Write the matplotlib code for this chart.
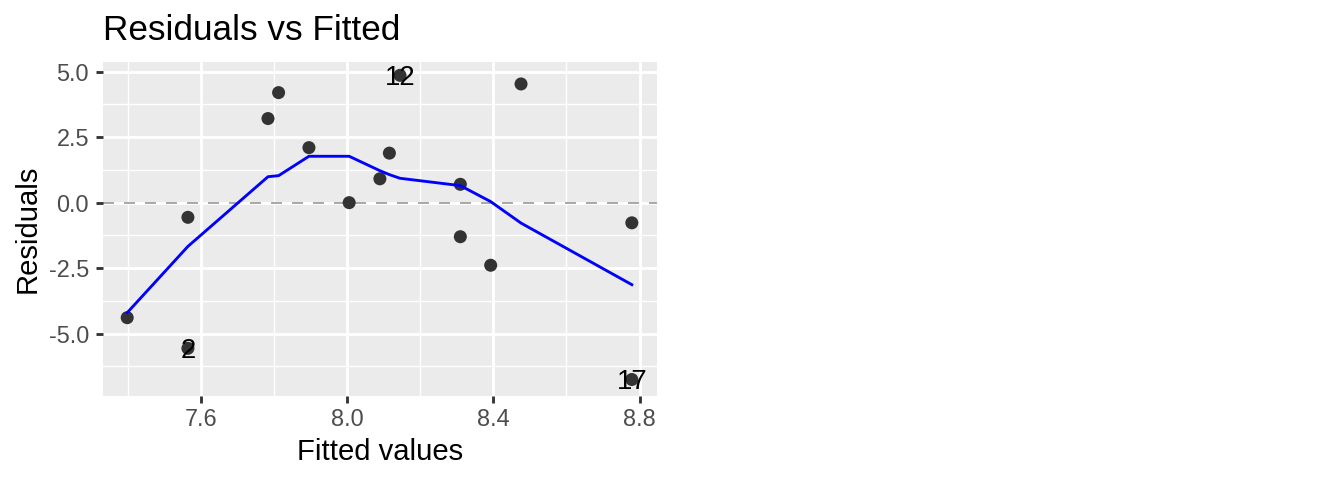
import matplotlib
matplotlib.use("Agg")
import matplotlib.pyplot as plt

# data
FITTED = [7.399, 7.565, 7.565, 7.784, 7.813, 7.896, 8.006, 8.090,
          8.116, 8.145, 8.310, 8.310, 8.393, 8.476, 8.779, 8.779]
RESIDUALS = [-4.39, -0.56, -5.56, 3.21, 4.20, 2.10, 0.00, 0.91,
             1.89, 4.86, 0.70, -1.30, -2.39, 4.53, -0.77, -6.75]
LABELS = {2: "2", 9: "12", 15: "17"}

SMOOTH_X = [7.399, 7.565, 7.784, 7.813, 7.896, 8.006, 8.090, 8.116,
            8.145, 8.310, 8.393, 8.476, 8.779]
SMOOTH_Y = [-4.20, -1.67, 0.99, 1.03, 1.77, 1.77, 1.22, 1.07,
            0.93, 0.65, 0.04, -0.78, -3.13]

X_TICKS = [7.6, 8.0, 8.4, 8.8]
X_TICK_LABELS = ["7.6", "8.0", "8.4", "8.8"]
X_MINOR = [7.4, 7.8, 8.2, 8.6]
Y_TICKS = [-5.0, -2.5, 0.0, 2.5, 5.0]
Y_TICK_LABELS = ["-5.0", "-2.5", "0.0", "2.5", "5.0"]
Y_MINOR = [-6.25, -3.75, -1.25, 1.25, 3.75]

plt.rcParams['font.family'] = ['Liberation Sans', 'DejaVu Sans']

W, H = 1344, 480
fig = plt.figure(figsize=(W / 100, H / 100), dpi=100)
# panel box in pixels: left 102.7, right 656.7, top 61.7, bottom 396
ax = fig.add_axes([102.7 / W, 1 - 396 / H, (656.7 - 102.7) / W, (396 - 61.7) / H])
ax.set_facecolor('#EBEBEB')
for s in ax.spines.values():
    s.set_visible(False)

ax.set_xlim(7.332, 8.847)
ax.set_ylim(-7.38, 5.38)

# grid
for v in X_MINOR:
    ax.axvline(v, color='white', lw=1.0, zorder=0.5)
for v in Y_MINOR:
    ax.axhline(v, color='white', lw=1.0, zorder=0.5)
for v in X_TICKS:
    ax.axvline(v, color='white', lw=2.05, zorder=0.6)
for v in Y_TICKS:
    ax.axhline(v, color='white', lw=2.05, zorder=0.6)

# zero line
ax.axhline(0, color='#999999', lw=1.2, dashes=(6.6, 6), zorder=1)

# points
ax.scatter(FITTED, RESIDUALS, s=88, color='#333333', edgecolors='none', zorder=2)

# smoother
ax.plot(SMOOTH_X, SMOOTH_Y, color='blue', lw=2.05, zorder=3)

# labels of extreme points
for i, lab in LABELS.items():
    ax.annotate(lab, (FITTED[i], RESIDUALS[i]), xytext=(0, -7.2),
                textcoords='offset points', ha='center', va='baseline',
                fontsize=19.8, color='black', zorder=4)

ax.set_xticks(X_TICKS)
ax.set_xticklabels(X_TICK_LABELS)
ax.set_yticks(Y_TICKS)
ax.set_yticklabels(Y_TICK_LABELS)
ax.tick_params(axis='both', length=5.2, width=2.05, color='#333333',
               labelcolor='#4D4D4D', labelsize=16.9)
ax.tick_params(axis='x', pad=3.5)
ax.tick_params(axis='y', pad=4.6)

ax.set_xlabel('Fitted values', fontsize=21.1, va='baseline')
ax.xaxis.set_label_coords(0.5, -0.191)
ax.set_ylabel('Residuals', fontsize=21.1, va='baseline')
ax.yaxis.set_label_coords(-0.1204, 0.5)

ax.set_title('Residuals vs Fitted', loc='left', fontsize=25.3, pad=15.6)

fig.savefig('out.png', dpi=100)
